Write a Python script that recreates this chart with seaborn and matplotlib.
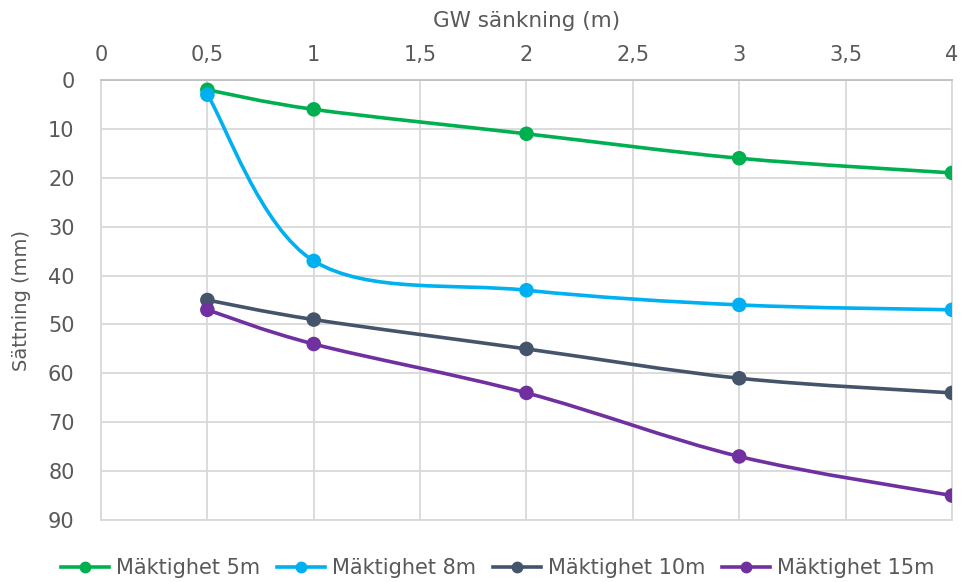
import numpy as np
import pandas as pd
import seaborn as sns
import matplotlib.pyplot as plt
from matplotlib.path import Path
from matplotlib.patches import PathPatch
from matplotlib.lines import Line2D
from matplotlib.ticker import FuncFormatter

# GW lowering (m) and settlement (mm) per layer thickness
gw = [0.5, 1, 2, 3, 4]
m5 = [2, 6, 11, 16, 19]
m8 = [3, 37, 43, 46, 47]
m10 = [45, 49, 55, 61, 64]
m15 = [47, 54, 64, 77, 85]

labels = ["Mäktighet 5m", "Mäktighet 8m", "Mäktighet 10m", "Mäktighet 15m"]
colors = ["#00B050", "#00B0F0", "#44546A", "#7030A0"]

df = pd.DataFrame({"gw": gw * 4,
                   "s": m5 + m8 + m10 + m15,
                   "serie": [l for l in labels for _ in gw]})

TXT = "#595959"
plt.rcParams["font.family"] = ["DejaVu Sans"]

fig = plt.figure(figsize=(9.61, 5.82), dpi=100)
ax = fig.add_axes([0.1051, 0.1065, 0.8855, 0.756])


def smooth_path(xs, ys):
    # Excel-like smoothed line: cubic bezier through the points
    p = np.column_stack([xs, ys]).astype(float)
    ext = np.vstack([p[0], p, p[-1]])
    verts = [p[0]]
    codes = [Path.MOVETO]
    for i in range(len(p) - 1):
        p0, p1, p2, p3 = ext[i], ext[i + 1], ext[i + 2], ext[i + 3]
        c1 = p1 + (p2 - p0) / 6
        c2 = p2 - (p3 - p1) / 6
        verts += [c1, c2, p2]
        codes += [Path.CURVE4] * 3
    return Path(verts, codes)


for lab, col in zip(labels, colors):
    sub = df[df.serie == lab]
    ax.add_patch(PathPatch(smooth_path(sub.gw, sub.s), fill=False,
                           edgecolor=col, lw=2.6, capstyle="round", zorder=2))

sns.scatterplot(data=df, x="gw", y="s", hue="serie", palette=colors,
                s=110, edgecolor="none", legend=False, ax=ax, zorder=3)

ax.set_xlim(0, 4)
ax.set_ylim(90, 0)
ax.set_xticks(np.arange(0, 4.01, 0.5))
ax.set_yticks(range(0, 91, 10))
ax.xaxis.set_major_formatter(FuncFormatter(lambda v, p: f"{v:g}".replace(".", ",")))
ax.xaxis.tick_top()
ax.xaxis.set_label_position("top")
ax.tick_params(length=0, labelsize=15, colors=TXT)
ax.tick_params(axis="x", pad=11)
ax.tick_params(axis="y", pad=19)
ax.grid(True, color="#D9D9D9", lw=1.3)
ax.set_axisbelow(True)
for side in ["left", "right", "bottom"]:
    ax.spines[side].set_color("#D9D9D9")
    ax.spines[side].set_linewidth(1.3)
ax.spines["top"].set_color("#BFBFBF")
ax.spines["top"].set_linewidth(1.3)

ax.set_xlabel("GW sänkning (m)", fontsize=15.5, color=TXT, labelpad=13)
ax.set_ylabel("Sättning (mm)", fontsize=14, color=TXT, labelpad=12)

handles = [Line2D([0], [0], color=c, lw=2.6, marker="o", markersize=7.5) for c in colors]
fig.legend(handles, labels, loc="lower center", bbox_to_anchor=(0.518, -0.025), ncol=4,
           frameon=False, fontsize=15, labelcolor=TXT, handlelength=2.3,
           handletextpad=0.35, columnspacing=0.8)

fig.savefig("out.png", dpi=100)
